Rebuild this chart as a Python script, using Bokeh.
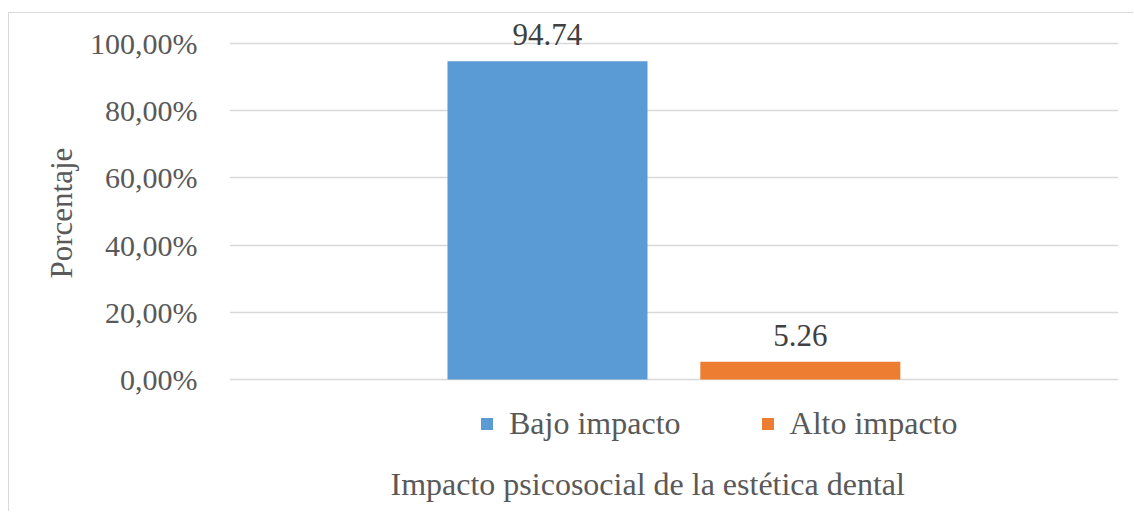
from bokeh.plotting import figure
from bokeh.models import (ColumnDataSource, FactorRange, Range1d, FixedTicker,
                          CustomJSTickFormatter, Legend, LegendItem, Label,
                          LabelSet, Title)
from bokeh.transform import dodge
from bokeh.embed import file_html
from bokeh.resources import INLINE

# ---- data ----
category = ["Impacto psicosocial"]
series = ["Bajo impacto", "Alto impacto"]
values = [94.74, 5.26]
colors = ["#5B9BD5", "#ED7D31"]
y_ticks = [0, 20, 40, 60, 80, 100]
x_title = "Impacto psicosocial de la estética dental"
y_title = "Porcentaje"

FONT = "Liberation Serif"
W, H = 1125, 499
# layout (canvas pixels): value 0 at y=366, value 100 at y=30
Y0, Y100 = 366, 30
ppu = (Y0 - Y100) / 100.0
y_lo = -(H - Y0) / ppu
y_hi = 100 + Y100 / ppu

p = figure(x_range=FactorRange(factors=category), y_range=Range1d(y_lo, y_hi),
           width=W, height=H, output_backend="svg", toolbar_location=None,
           x_axis_location=None,
           min_border_left=220, min_border_right=16, min_border_top=0,
           min_border_bottom=0)
p.styles = {"border-left": "1px solid #d9d9d9", "border-top": "1px solid #d9d9d9",
            "margin-left": "8px", "margin-top": "12px"}
p.outline_line_color = None
p.background_fill_color = "white"
p.border_fill_color = "white"

offsets = [-0.1423, 0.1421]
bar_w = 0.225
items = []
for s, v, c, off in zip(series, values, colors, offsets):
    src = ColumnDataSource(dict(x=category, y=[v], lab=[f"{v:.2f}"]))
    r = p.vbar(x=dodge("x", off, range=p.x_range), top="y", width=bar_w,
               source=src, fill_color=c, line_color=None)
    p.add_layout(LabelSet(x=dodge("x", off, range=p.x_range), y="y", text="lab",
                          source=src, text_align="center",
                          text_baseline="alphabetic", y_offset=16,
                          text_font=FONT, text_font_size="31px",
                          text_color="#404040"))
    items.append(LegendItem(label=s, renderers=[r]))

# y axis
yax = p.yaxis[0]
yax.ticker = FixedTicker(ticks=y_ticks)
yax.formatter = CustomJSTickFormatter(code="return tick.toFixed(2).replace('.', ',') + '%';")
yax.axis_line_color = None
yax.major_tick_line_color = None
yax.minor_tick_line_color = None
yax.major_tick_out = 0
yax.major_tick_in = 0
yax.major_label_standoff = 32
yax.major_label_text_font = FONT
yax.major_label_text_font_size = "30px"
yax.major_label_text_color = "#595959"

p.add_layout(Title(text=y_title, align="left", offset=H - 265, standoff=18,
                   text_font=FONT, text_font_size="31px",
                   text_font_style="normal", text_color="#595959"), "left")

p.ygrid.grid_line_color = "#d9d9d9"
p.ygrid.grid_line_width = 1.5
p.ygrid.ticker = FixedTicker(ticks=y_ticks)
p.xgrid.visible = False

legend = Legend(items=items, orientation="horizontal", location=(250, 70),
                glyph_width=15, glyph_height=15, label_standoff=15, spacing=79,
                padding=0, margin=0, border_line_color=None,
                background_fill_alpha=0,
                label_text_font=FONT, label_text_font_size="32px",
                label_text_color="#595959")
p.add_layout(legend, "center")

p.add_layout(Label(x=161, y=29, x_units="screen", y_units="screen", text=x_title,
                   text_font=FONT, text_font_size="32px", text_color="#595959",
                   text_align="left", text_baseline="alphabetic"))

open("out.html", "w").write(file_html(p, INLINE))
